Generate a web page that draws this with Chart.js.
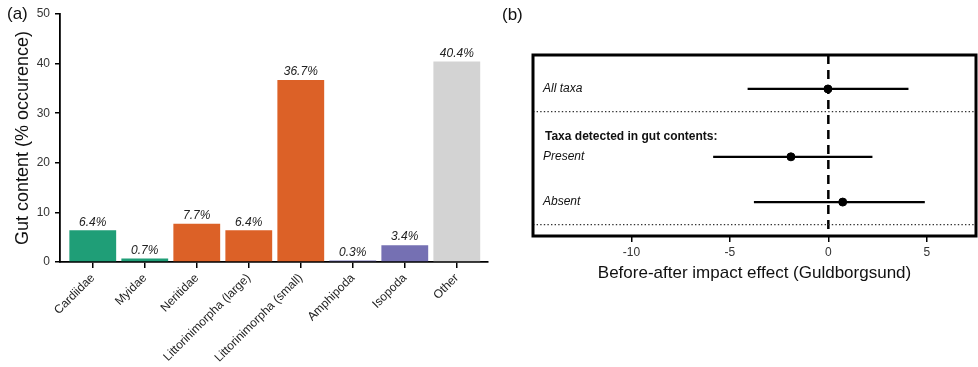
<!DOCTYPE html>
<html>
<head>
<meta charset="utf-8">
<script src="https://cdn.jsdelivr.net/npm/chart.js@4.4.1/dist/chart.umd.min.js"></script>
<style>
  html, body { margin: 0; padding: 0; background: #fff; overflow: hidden; }
  #wrap { position: relative; width: 978px; height: 367px; overflow: hidden; font-family: "Liberation Sans", Arial, sans-serif; }
  #chartA { position: absolute; left: 0; top: 0; }
  #chartB { position: absolute; left: 500px; top: 0; }
  .tag { position: absolute; font-size: 17px; color: #111; }
</style>
</head>
<body>
<div id="wrap">
  <canvas id="chartA" width="500" height="367"></canvas>
  <canvas id="chartB" width="481" height="367"></canvas>
  <div class="tag" style="left:7px; top:4px;">(a)</div>
  <div class="tag" style="left:502px; top:5px;">(b)</div>
</div>
<script>
// panel (a) - gut contents
const taxa = ['Cardiidae', 'Myidae', 'Neritidae', 'Littorinimorpha (large)', 'Littorinimorpha (small)', 'Amphipoda', 'Isopoda', 'Other']
const occurrence = [6.4, 0.7, 7.7, 6.4, 36.7, 0.3, 3.4, 40.4]
const taxaColors = ['#1f9e77', '#1f9e77', '#dc6127', '#dc6127', '#dc6127', '#7570b3', '#7570b3', '#d3d3d3']
const yTicksA = [0, 10, 20, 30, 40, 50]

// panel (b) - before-after impact effect
const rows = ['All taxa', 'Present', 'Absent']
const rowPos = [1.5, 4.5, 6.5]
const estimate = [-0.02, -1.9, 0.73]
const lower = [-4.1, -5.85, -3.78]
const upper = [4.07, 2.24, 4.9]
const groupHeader = 'Taxa detected in gut contents:'
const headerPos = 3.6
const separators = [2.5, 7.5]
const xTicksB = [-10, -5, 0, 5]

const font = '"Liberation Sans", Arial, sans-serif'
Chart.defaults.font.family = font
Chart.defaults.animation = false

// keep the axis from adding room for rotated/edge labels
const noPad = (axis, h) => {
    axis.height = h
    axis.paddingLeft = 0
    axis.paddingRight = 0
}

const barLabels = {
    id: 'barLabels',
    afterDatasetsDraw(chart) {
        const ctx = chart.ctx
        const meta = chart.getDatasetMeta(0)
        ctx.save()
        ctx.font = 'italic 12px ' + font
        ctx.fillStyle = '#222'
        ctx.textAlign = 'center'
        ctx.textBaseline = 'bottom'
        meta.data.forEach((bar, i) => {
            ctx.fillText(occurrence[i].toFixed(1) + '%', bar.x, bar.y - 2)
        })
        ctx.restore()
    }
}

new Chart(document.getElementById('chartA'), {
    type: 'bar',
    data: {
        datasets: [{
            data: occurrence.map((v, i) => ({x: i, y: v})),
            backgroundColor: taxaColors,
            borderWidth: 0,
            barPercentage: 0.9,
            categoryPercentage: 1
        }]
    },
    options: {
        responsive: false,
        layout: {padding: {top: 14, right: 12, left: 0, bottom: 0}},
        plugins: {legend: {display: false}, tooltip: {enabled: false}},
        scales: {
            x: {
                type: 'linear',
                offset: false,
                min: -0.63,
                max: 7.6,
                afterBuildTicks: (axis) => { axis.ticks = taxa.map((t, i) => ({value: i})) },
                afterFit: (axis) => noPad(axis, 105),
                ticks: {
                    autoSkip: false,
                    minRotation: 45,
                    maxRotation: 45,
                    color: '#222',
                    font: {size: 12},
                    padding: 3,
                    callback: (v) => taxa[v]
                },
                grid: {offset: false, drawOnChartArea: false, drawTicks: true, tickLength: 6, color: '#000', lineWidth: 1.5},
                border: {display: true, color: '#000', width: 1.8}
            },
            y: {
                min: 0,
                max: 50,
                afterBuildTicks: (axis) => { axis.ticks = yTicksA.map((v) => ({value: v})) },
                afterFit: (axis) => { axis.width = 60 },
                ticks: {color: '#333', font: {size: 12}, padding: 5},
                grid: {drawOnChartArea: false, drawTicks: true, tickLength: 5, color: '#000', lineWidth: 1.5},
                border: {display: true, color: '#000', width: 1.8},
                title: {display: true, text: 'Gut content (% occurence)', color: '#111', font: {size: 18}, padding: {top: 12, bottom: 0}}
            }
        }
    },
    plugins: [barLabels]
})

const boxAndRows = {
    id: 'boxAndRows',
    afterDatasetsDraw(chart) {
        const ctx = chart.ctx
        const area = chart.chartArea
        const y = chart.scales.y
        ctx.save()
        ctx.lineWidth = 3
        ctx.strokeStyle = '#000'
        ctx.strokeRect(area.left, area.top, area.right - area.left, area.bottom - area.top)
        ctx.fillStyle = '#111'
        ctx.textBaseline = 'middle'
        ctx.font = 'italic 12px ' + font
        rows.forEach((r, i) => ctx.fillText(r, area.left + 10, y.getPixelForValue(rowPos[i])))
        ctx.font = 'bold 12px ' + font
        ctx.fillText(groupHeader, area.left + 12, y.getPixelForValue(headerPos))
        ctx.restore()
    }
}

const lineStyle = {showLine: true, borderColor: '#000', pointRadius: 0, fill: false}
const dsB = []
separators.forEach((s) => dsB.push({...lineStyle, data: [{x: -15, y: s}, {x: 7.5, y: s}], borderWidth: 1.2, borderDash: [1.4, 2.2], borderColor: '#333'}))
dsB.push({...lineStyle, data: [{x: 0, y: 0}, {x: 0, y: 8}], borderWidth: 2.5, borderDash: [9, 6]})
rows.forEach((r, i) => dsB.push({...lineStyle, data: [{x: lower[i], y: rowPos[i]}, {x: upper[i], y: rowPos[i]}], borderWidth: 2.2}))
dsB.push({data: estimate.map((e, i) => ({x: e, y: rowPos[i]})), pointRadius: 4, backgroundColor: '#000', borderColor: '#000', showLine: false})

new Chart(document.getElementById('chartB'), {
    type: 'scatter',
    data: {datasets: dsB},
    options: {
        responsive: false,
        layout: {padding: {top: 55, right: 2, left: 33, bottom: 0}},
        plugins: {legend: {display: false}, tooltip: {enabled: false}},
        scales: {
            x: {
                min: -15,
                max: 7.5,
                afterBuildTicks: (axis) => { axis.ticks = xTicksB.map((v) => ({value: v})) },
                afterFit: (axis) => noPad(axis, 131),
                ticks: {color: '#333', font: {size: 12}, padding: 3},
                grid: {drawOnChartArea: false, drawTicks: true, tickLength: 6, color: '#000', lineWidth: 1.5},
                border: {display: false},
                title: {display: true, text: 'Before-after impact effect (Guldborgsund)', color: '#111', font: {size: 17}, padding: {top: 0, bottom: 83}}
            },
            y: {
                display: false,
                reverse: true,
                min: 0,
                max: 8
            }
        }
    },
    plugins: [boxAndRows]
})
</script>
</body>
</html>
